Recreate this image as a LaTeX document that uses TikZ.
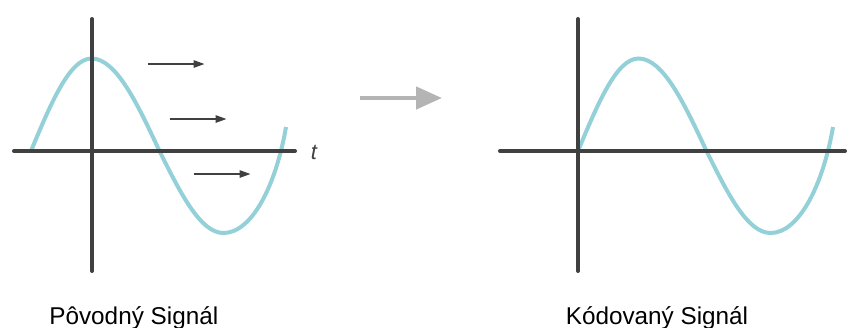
\documentclass[tikz,border=0pt]{standalone}
\usepackage{fontspec}
\setmainfont{Liberation Sans}
\usetikzlibrary{arrows.meta}
\definecolor{axisgray}{RGB}{64,64,64}
\definecolor{wave}{RGB}{147,208,216}
\definecolor{biggray}{RGB}{180,180,180}
\tikzset{
  axisline/.style={draw=axisgray, line width=4pt, line cap=round},
  waveline/.style={draw=wave, line width=4pt},
  smallarrow/.style={draw=axisgray, line width=1.4pt, -{Triangle[length=11pt,width=7.5pt]}},
  bigarrow/.style={draw=biggray, line width=4.5pt, -{Triangle[length=26pt,width=22pt]}},
  caption/.style={anchor=base, font=\fontsize{24.3}{29}\selectfont, text=black, inner sep=0pt},
}
\begin{document}
\begin{tikzpicture}[x=1pt,y=-1pt]
\useasboundingbox (0,0) rectangle (858,327);
% left panel: wave
\draw[waveline] (31,151) sin (91.5,58.5) cos (159.5,151) sin (223.5,233)
  .. controls (252,233) and (276,185) .. (286,127);
% left axes
\coordinate (lx1) at (14,151);
\coordinate (lx2) at (295,151);
\coordinate (ly1) at (92,19);
\coordinate (ly2) at (92,271);
\draw[axisline] (lx1) -- (lx2);
\draw[axisline] (ly1) -- (ly2);
\node[anchor=base, font=\fontsize{22}{26}\selectfont\itshape, text=axisgray, inner sep=0pt] (tlab) at (314,159) {t};
% small arrows
\coordinate (a1s) at (147.5,64);
\coordinate (a1e) at (204.5,64);
\coordinate (a2s) at (169.5,119);
\coordinate (a2e) at (226.5,119);
\coordinate (a3s) at (193.5,174);
\coordinate (a3e) at (250.5,174);
\draw[smallarrow] (a1s) -- (a1e);
\draw[smallarrow] (a2s) -- (a2e);
\draw[smallarrow] (a3s) -- (a3e);
% big arrow
\coordinate (bs) at (360,98);
\coordinate (be) at (442,98);
\draw[bigarrow] (bs) -- (be);
% right panel: wave
\draw[waveline] (578,151) sin (638.5,58.5) cos (706.5,151) sin (770.5,233)
  .. controls (799,233) and (823,185) .. (833,127);
% right axes
\coordinate (rx1) at (500,151);
\coordinate (rx2) at (845,151);
\coordinate (ry1) at (578,19);
\coordinate (ry2) at (578,271);
\draw[axisline] (rx1) -- (rx2);
\draw[axisline] (ry1) -- (ry2);
% captions
\node[caption] (capl) at (133.8,324) {Pôvodný Signál};
\node[caption] (capr) at (657,324) {Kódovaný Signál};
\end{tikzpicture}
\end{document}
